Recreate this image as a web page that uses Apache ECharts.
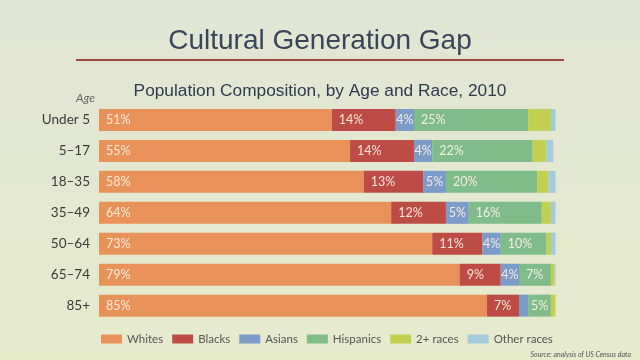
<!DOCTYPE html>
<html>
<head>
<meta charset="utf-8">
<script src="https://cdn.jsdelivr.net/npm/echarts@6/dist/echarts.min.js"></script>
<style>html,body{margin:0;padding:0;}#c{width:640px;height:360px;}</style>
</head>
<body>
<div id="c"></div>
<script>
const ages = ['Under 5', '5–17', '18–35', '35–49', '50–64', '65–74', '85+'];
const seriesNames = ['Whites', 'Blacks', 'Asians', 'Hispanics', '2+ races', 'Other races'];
const whites = [51, 55, 58, 64, 73, 79, 85];
const blacks = [14, 14, 13, 12, 11, 9, 7];
const asians = [4, 4, 5, 5, 4, 4, 2];
const hispanics = [25, 22, 20, 16, 10, 7, 5];
const twoPlus = [5, 3, 2.5, 2, 1, 0.8, 1];
const otherRaces = [1, 1.5, 1.5, 1, 1, 0.8, 0.5];

const values = [whites, blacks, asians, hispanics, twoPlus, otherRaces];
const colors = ['#E8925A', '#BE4C46', '#7B9BC8', '#80BC8A', '#C0D152', '#A5CADB'];
const labelled = [true, true, true, true, false, false];

const chart = echarts.init(document.getElementById('c'));
const series = seriesNames.map((name, i) => ({
  name: name,
  type: 'bar',
  stack: 'total',
  barWidth: 22,
  itemStyle: { color: colors[i] },
  data: values[i].map(v => {
    const item = { value: v };
    if (labelled[i] && v >= 3) {
      item.label = {
        show: true,
        position: v <= 5 ? 'inside' : 'insideLeft',
        distance: 7,
        formatter: '{c}%',
        color: 'rgba(255,242,230,0.92)',
        fontFamily: 'Lato',
        fontSize: 12.5
      };
    }
    return item;
  })
}));

chart.setOption({
  animation: false,
  backgroundColor: {
    type: 'linear', x: 0, y: 0, x2: 0, y2: 1,
    colorStops: [{ offset: 0, color: '#E1E5D4' }, { offset: 1, color: '#E6EBCC' }]
  },
  title: [
    { text: 'Cultural Generation Gap', left: 'center', top: 22,
      textStyle: { fontFamily: 'Liberation Sans', fontWeight: 'normal', fontSize: 28, color: '#394659' } },
    { text: 'Population Composition, by Age and Race, 2010', left: 'center', top: 78,
      textStyle: { fontFamily: 'Liberation Sans', fontWeight: 'normal', fontSize: 17.3, color: '#2F3B4F' } },
    { text: 'Age', left: 71, top: 87,
      textStyle: { fontFamily: 'Lato', fontStyle: 'italic', fontWeight: 'normal', fontSize: 12, color: '#666' } },
    { text: 'Source: analysis of US Census data', right: 4, top: 346,
      textStyle: { fontFamily: 'Lato', fontStyle: 'italic', fontWeight: 'normal', fontSize: 7, color: '#555' } }
  ],
  graphic: [
    { type: 'line', shape: { x1: 76, y1: 60, x2: 564, y2: 60 },
      style: { stroke: '#A0473D', lineWidth: 2 } }
  ],
  legend: {
    left: 96, top: 328,
    icon: 'rect', itemWidth: 21, itemHeight: 9, itemGap: 9,
    textStyle: { fontFamily: 'Lato', fontSize: 11.5, color: '#555' },
    data: seriesNames
  },
  grid: { left: 99, width: 456.5, top: 104.5, height: 216.6 },
  xAxis: { type: 'value', min: 0, max: 100, show: false },
  yAxis: {
    type: 'category', data: ages, inverse: true,
    axisLine: { show: false }, axisTick: { show: false },
    axisLabel: { margin: 9, fontFamily: 'Lato', fontSize: 13.5, color: '#3A3A3A' }
  },
  series: series
});
</script>
</body>
</html>
